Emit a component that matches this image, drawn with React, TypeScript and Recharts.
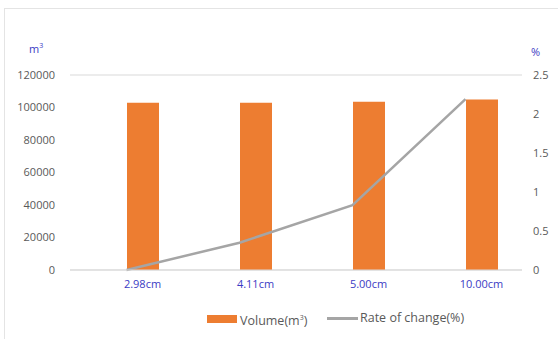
import React from 'react'
import { ComposedChart, Bar, Line, XAxis, YAxis, CartesianGrid } from 'recharts'

const CATEGORIES = ['2.98cm', '4.11cm', '5.00cm', '10.00cm']
const VOLUME = [103000, 103000, 103600, 105000]
const RATE = [0, 0.35, 0.83, 2.19]
// Excel had an empty series before Volume, so the bar sits right of the tick
const SPACER = [0, 0, 0, 0]
const LEFT_TICKS = [0, 20000, 40000, 60000, 80000, 100000, 120000]
const RIGHT_TICKS = [0, 0.5, 1, 1.5, 2, 2.5]

const FONT = '"Open Sans", "Noto Sans", sans-serif'
const GREY = '#595959'
const BLUE = '#3b3bc4'
const ORANGE = '#ed7d31'
const LINE = '#a5a5a5'

const data = CATEGORIES.map((c, i) => ({
  name: c,
  spacer: SPACER[i],
  volume: VOLUME[i],
  rate: RATE[i]
}))

const XTick = ({ x, y, payload }: any) => (
  <text x={x + 16} y={y} dy={12} textAnchor="middle" fill={BLUE} fontSize={11} fontFamily={FONT}>
    {payload.value}
  </text>
)

export default function App() {
  return (
    <div style={{ position: 'absolute', left: 0, top: 0, width: 558, height: 339, background: '#fff', overflow: 'hidden', fontFamily: FONT }}>
      {/* faint frame of the original screenshot */}
      <div style={{ position: 'absolute', left: 4, top: 8, width: 560, height: 340, borderLeft: '1px solid #e4e4e4', borderTop: '1px solid #e4e4e4' }} />

      <ComposedChart
        width={558}
        height={339}
        data={data}
        margin={{ top: 75, right: 0, left: 0, bottom: 0 }}
        barSize={32}
        barGap={0}
        style={{ position: 'absolute', left: 0, top: 0 }}
      >
        <CartesianGrid vertical={false} stroke="#d9d9d9" />
        <XAxis
          dataKey="name"
          height={69}
          axisLine={{ stroke: '#d9d9d9' }}
          tickLine={false}
          tickSize={0}
          tickMargin={6}
          tick={<XTick />}
        />
        <YAxis
          yAxisId="left"
          domain={[0, 120000]}
          ticks={LEFT_TICKS}
          width={70}
          axisLine={false}
          tickLine={false}
          tickSize={0}
          tickMargin={15}
          tick={{ fill: GREY, fontSize: 11, fontFamily: FONT }}
        />
        <YAxis
          yAxisId="right"
          orientation="right"
          domain={[0, 2.5]}
          ticks={RIGHT_TICKS}
          width={36}
          axisLine={false}
          tickLine={false}
          tickSize={0}
          tickMargin={11}
          tick={{ fill: GREY, fontSize: 11, fontFamily: FONT, textAnchor: 'start' }}
        />
        <Bar yAxisId="left" dataKey="spacer" fill="transparent" isAnimationActive={false} />
        <Bar yAxisId="left" dataKey="volume" fill={ORANGE} isAnimationActive={false} />
        <Line
          yAxisId="right"
          dataKey="rate"
          type="linear"
          stroke={LINE}
          strokeWidth={2.5}
          dot={false}
          isAnimationActive={false}
        />
      </ComposedChart>

      <div style={{ position: 'absolute', left: 29, top: 41, color: BLUE, fontSize: 11 }}>
        m<sup style={{ fontSize: 7 }}>3</sup>
      </div>
      <div style={{ position: 'absolute', left: 531, top: 44, color: BLUE, fontSize: 11 }}>%</div>

      <div style={{ position: 'absolute', left: 207, top: 315, width: 30, height: 8, background: ORANGE }} />
      <div style={{ position: 'absolute', left: 240, top: 312, color: GREY, fontSize: 12.5 }}>
        Volume(m<sup style={{ fontSize: 7 }}>3</sup>)
      </div>
      <div style={{ position: 'absolute', left: 327, top: 317, width: 31, height: 3, background: LINE }} />
      <div style={{ position: 'absolute', left: 360, top: 309, color: GREY, fontSize: 12.5 }}>Rate of change(%)</div>
    </div>
  )
}
